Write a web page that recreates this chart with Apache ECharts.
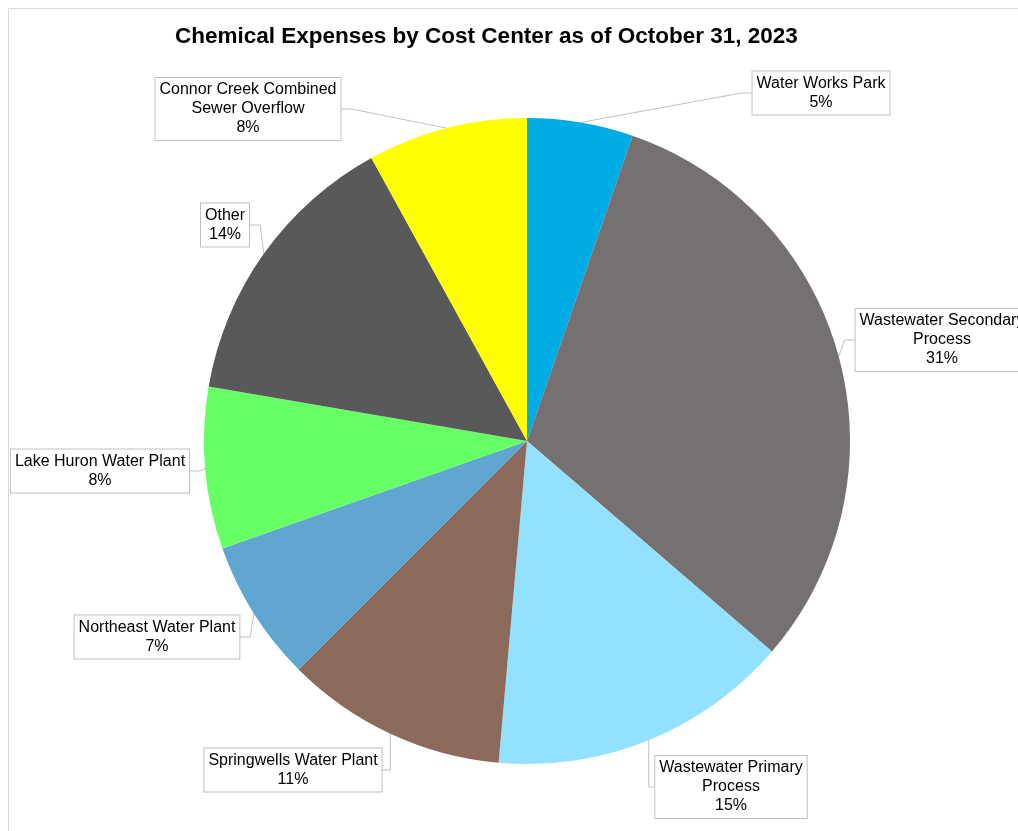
<!DOCTYPE html>
<html>
<head>
<meta charset="utf-8">
<script src="https://cdn.jsdelivr.net/npm/echarts@6/dist/echarts.min.js"></script>
<style>
  html, body { margin: 0; padding: 0; background: #fff; }
  #chart { width: 1018px; height: 831px; }
</style>
</head>
<body>
<div id="chart"></div>
<script>
// cost centers, clockwise from 12 o'clock
let categories = ['Water Works Park', 'Wastewater Secondary\nProcess', 'Wastewater Primary\nProcess',
    'Springwells Water Plant', 'Northeast Water Plant', 'Lake Huron Water Plant', 'Other',
    'Connor Creek Combined\nSewer Overflow']
// share of expenses
let shares = [5.3, 31.0, 15.1, 11.1, 7.1, 8.1, 14.3, 8.0]
let colors = ['#00ACE6', '#767171', '#92E1FF', '#8C6A5B', '#5FA6D0', '#66FF66', '#595959', '#FFFF00']

// where each callout box sits (centre), same order as categories
let labelSpots = [[821, 93], [942, 340], [731, 787], [293, 770], [157, 637], [100, 471], [225, 225], [248, 109]]

let total = shares.reduce((a, b) => a + b, 0)
let myChart = echarts.init(document.getElementById('chart'))

// the pie's layout box is widened by this much so callouts aren't squeezed;
// the center is given relative to that box
let padX = 400, padY = 200

let option = {
    animation: false,
    title: {
        text: 'Chemical Expenses by Cost Center as of October 31, 2023',
        left: 175,
        top: 25,
        padding: 0,
        textStyle: {
            fontFamily: 'Liberation Sans',
            fontSize: 22.5,
            fontWeight: 'bold',
            color: '#000'
        }
    },
    graphic: [{
        type: 'polyline',
        shape: { points: [[8.5, 831], [8.5, 8.5], [1018, 8.5]] },
        style: { stroke: '#d9d9d9', lineWidth: 1, fill: null }
    }],
    series: [{
        type: 'pie',
        left: -padX,
        right: -padX,
        top: -padY,
        bottom: -padY,
        center: [527 + padX, 441 + padY],
        radius: 323,
        startAngle: 90,
        clockwise: true,
        data: categories.map((name, i) => ({
            name: name,
            value: shares[i],
            itemStyle: { color: colors[i] }
        })),
        label: {
            show: true,
            position: 'outside',
            formatter: p => p.name + '\n' + Math.round(p.value * 100 / total) + '%',
            fontFamily: 'Liberation Sans',
            fontSize: 16,
            lineHeight: 19,
            color: '#000',
            align: 'center',
            overflow: 'none',
            backgroundColor: '#fff',
            borderColor: '#c0c0c0',
            borderWidth: 1,
            padding: [3, 4, 2, 4]
        },
        labelLine: {
            show: true,
            length: 20,
            length2: 10,
            lineStyle: { color: '#c0c0c0', width: 1 }
        },
        labelLayout: function (params) {
            let spot = labelSpots[params.dataIndex]
            return {
                x: spot[0],
                y: spot[1],
                align: 'center',
                verticalAlign: 'middle'
            }
        },
        emphasis: { disabled: true }
    }]
}

myChart.setOption(option)
</script>
</body>
</html>
